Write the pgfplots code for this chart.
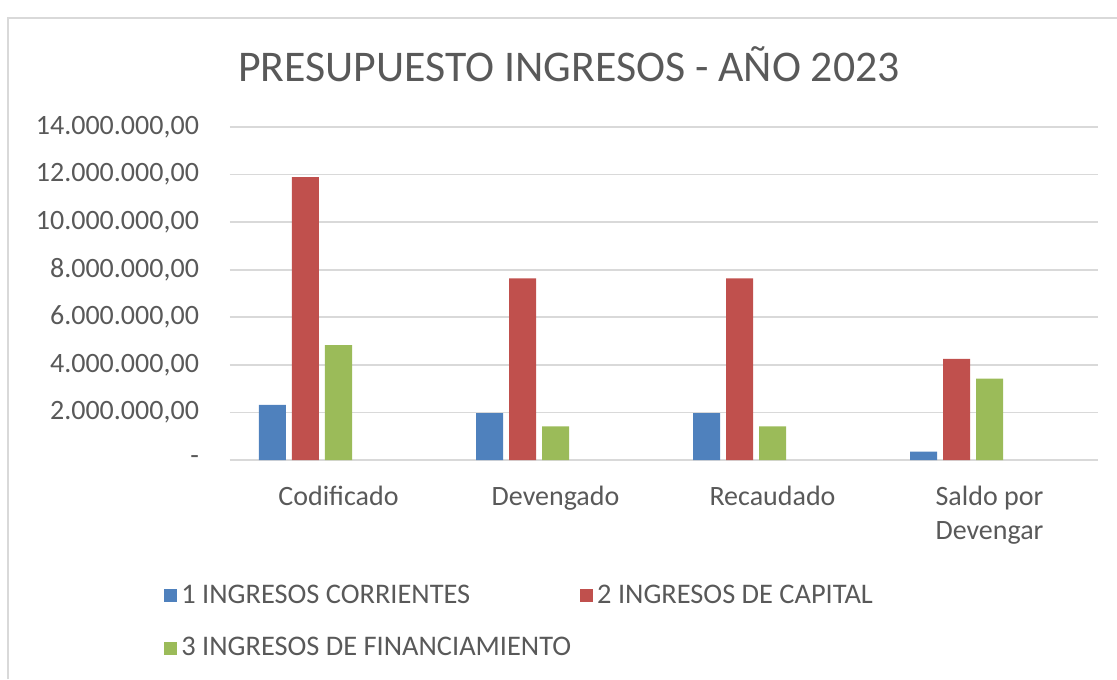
\documentclass[border=0pt]{standalone}
\usepackage{pgfplots}
\pgfplotsset{compat=1.18}
\usepackage{fontspec}
\setmainfont{Carlito}

\definecolor{serA}{HTML}{4F81BD}
\definecolor{serB}{HTML}{C0504D}
\definecolor{serC}{HTML}{9BBB59}
\definecolor{txtgray}{HTML}{595959}
\definecolor{gridgray}{HTML}{D9D9D9}

% values in pesos, categories at 0..3
\pgfplotstableread{
x  corr      cap        fin
0  2320000   11890000   4830000
1  1970000   7640000    1410000
2  1970000   7640000    1410000
3  350000    4250000    3420000
}\ingresos

\begin{document}
\begin{tikzpicture}[x=1pt,y=1pt]
\useasboundingbox (-115,-109.5) rectangle (443.5,230);
\draw[gridgray, line width=0.8pt] (-111,-109.5) -- (-111,221) -- (443.5,221);
\node[text=txtgray, font=\fontsize{21.9}{24}\selectfont] at (169.5,198) {PRESUPUESTO INGRESOS - AÑO 2023};
\begin{axis}[
  at={(0,0)}, anchor=south west,
  width=434pt, height=166.5pt, scale only axis,
  xmin=-0.5, xmax=3.5, ymin=0, ymax=14000000,
  scaled y ticks=false,
  axis line style={draw=none},
  major tick length=0pt,
  ytick={0,2000000,4000000,6000000,8000000,10000000,12000000,14000000},
  yticklabels={-, {2.000.000,00}, {4.000.000,00}, {6.000.000,00}, {8.000.000,00},
               {10.000.000,00}, {12.000.000,00}, {14.000.000,00}},
  xtick={0,1,2,3},
  xticklabels={Codificado, Devengado, Recaudado, {Saldo por\\Devengar}},
  ymajorgrids, grid style={gridgray, line width=0.8pt},
  tick label style={text=txtgray},
  yticklabel style={font=\fontsize{14}{17}\selectfont, xshift=-12pt},
  xticklabel style={font=\fontsize{14}{17}\selectfont, align=center, yshift=-9.5pt},
  ybar, bar width=13.5pt,
  legend columns=2, legend cell align=left,
  legend style={draw=none, fill=none, at={(axis description cs:-0.083,-0.35)},
    anchor=north west, font=\fontsize{14.2}{17}\selectfont, text=txtgray,
    /tikz/every even column/.append style={column sep=2.5pt}, row sep=11.5pt},
  legend image code/.code={\fill[#1] (0pt,-3.25pt) rectangle (6.5pt,3.25pt);},
]
\addplot[fill=serA, draw=none, bar shift=-33pt] table[x=x, y=corr] {\ingresos};
\addplot[fill=serB, draw=none, bar shift=-16.5pt] table[x=x, y=cap] {\ingresos};
\addplot[fill=serC, draw=none, bar shift=0pt] table[x=x, y=fin] {\ingresos};
\legend{1 INGRESOS CORRIENTES, 2 INGRESOS DE CAPITAL, 3 INGRESOS DE FINANCIAMIENTO}
\end{axis}
\end{tikzpicture}
\end{document}
